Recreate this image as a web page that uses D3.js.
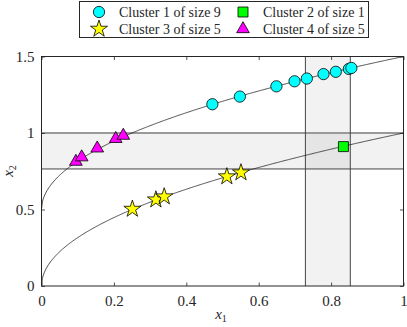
<!DOCTYPE html>
<html>
<head>
<meta charset="utf-8">
<script src="https://cdn.jsdelivr.net/npm/d3@7"></script>
<style>
  body { margin: 0; background: #fff; }
</style>
</head>
<body>
<div id="chart"></div>
<script>
  // cluster points
  const cluster1X = [0.472, 0.548, 0.649, 0.699, 0.733, 0.779, 0.813, 0.849, 0.856];
  const cluster1Y = [1.188, 1.238, 1.305, 1.338, 1.356, 1.385, 1.40, 1.419, 1.425];
  const cluster2X = [0.834];
  const cluster2Y = [0.911];
  const cluster3X = [0.251, 0.316, 0.339, 0.512, 0.551];
  const cluster3Y = [0.503, 0.564, 0.584, 0.715, 0.741];
  const cluster4X = [0.095, 0.111, 0.154, 0.205, 0.226];
  const cluster4Y = [0.813, 0.842, 0.90, 0.962, 0.983];

  const legendNames = ["Cluster 1 of size 9", "Cluster 2 of size 1", "Cluster 3 of size 5", "Cluster 4 of size 5"];
  const xTicks = [0, 0.2, 0.4, 0.6, 0.8, 1];
  const yTicks = [0, 0.5, 1, 1.5];

  // shaded bands
  const bandX = [0.729, 0.853];
  const bandY = [0.765, 1.0];

  const w = 407, h = 327;
  const font = "'Liberation Serif', 'DejaVu Serif', serif";
  const svg = d3.select("#chart").append("svg").attr("width", w).attr("height", h)
    .attr("font-family", font);

  const x = d3.scaleLinear().domain([0, 1]).range([41.5, 403.5]);
  const y = d3.scaleLinear().domain([0, 1.5]).range([286, 56.5]);

  // horizontal band
  svg.append("rect")
    .attr("x", x(0)).attr("y", y(bandY[1]))
    .attr("width", x(1) - x(0)).attr("height", y(bandY[0]) - y(bandY[1]))
    .attr("fill", "#000").attr("fill-opacity", 0.05);
  // vertical band
  svg.append("rect")
    .attr("x", x(bandX[0])).attr("y", y(1.5))
    .attr("width", x(bandX[1]) - x(bandX[0])).attr("height", y(0) - y(1.5))
    .attr("fill", "#000").attr("fill-opacity", 0.05);

  svg.append("line").attr("x1", x(0)).attr("x2", x(1)).attr("y1", y(bandY[1])).attr("y2", y(bandY[1]))
    .attr("stroke", "#999").attr("stroke-width", 2);
  svg.append("line").attr("x1", x(0)).attr("x2", x(1)).attr("y1", y(bandY[0])).attr("y2", y(bandY[0]))
    .attr("stroke", "#444").attr("stroke-width", 1);
  bandX.forEach(function (v) {
    svg.append("line").attr("x1", x(v)).attr("x2", x(v)).attr("y1", y(0)).attr("y2", y(1.5))
      .attr("stroke", "#444").attr("stroke-width", 1);
  });

  // model curves x2 = sqrt(x1) and x2 = 0.5 + sqrt(x1)
  const curveX = d3.range(0, 1.0001, 0.0025);
  const line = d3.line().x(function (d) { return x(d[0]); }).y(function (d) { return y(d[1]); });
  svg.append("path").attr("d", line(curveX.map(function (v) { return [v, Math.sqrt(v)]; })))
    .attr("fill", "none").attr("stroke", "#222").attr("stroke-width", 0.8);
  svg.append("path").attr("d", line(curveX.map(function (v) { return [v, 0.5 + Math.sqrt(v)]; })))
    .attr("fill", "none").attr("stroke", "#222").attr("stroke-width", 0.8);

  // axes box
  const axisColor = "#262626";
  svg.append("rect").attr("x", x(0)).attr("y", y(1.5))
    .attr("width", x(1) - x(0)).attr("height", y(0) - y(1.5))
    .attr("fill", "none").attr("stroke", axisColor).attr("stroke-width", 1);

  const gx = svg.append("g").attr("transform", "translate(0," + y(0) + ")")
    .call(d3.axisBottom(x).tickValues(xTicks).tickSizeInner(-3.5).tickSizeOuter(0).tickPadding(9)
      .tickFormat(function (d) { return d3.format("")(d); }));
  const gxTop = svg.append("g").attr("transform", "translate(0," + y(1.5) + ")")
    .call(d3.axisTop(x).tickValues(xTicks).tickSizeInner(-3.5).tickSizeOuter(0).tickFormat(""));
  const gy = svg.append("g").attr("transform", "translate(" + x(0) + ",0)")
    .call(d3.axisLeft(y).tickValues(yTicks).tickSizeInner(-3.5).tickSizeOuter(0).tickPadding(7)
      .tickFormat(function (d) { return d3.format("")(d); }));
  const gyRight = svg.append("g").attr("transform", "translate(" + x(1) + ",0)")
    .call(d3.axisRight(y).tickValues(yTicks).tickSizeInner(-3.5).tickSizeOuter(0).tickFormat(""));

  [gx, gxTop, gy, gyRight].forEach(function (g) {
    g.attr("font-family", font);
    g.select(".domain").remove();
    g.selectAll(".tick line").attr("stroke", axisColor).attr("stroke-width", 0.8);
    g.selectAll(".tick text").attr("font-size", 15).attr("font-family", font).attr("fill", axisColor);
  });

  // axis labels
  svg.append("text").attr("x", 221).attr("y", 319)
    .attr("text-anchor", "middle").attr("font-size", 15).attr("font-style", "italic")
    .attr("font-family", font).attr("fill", axisColor).text("x")
    .append("tspan").attr("font-size", 10).attr("font-style", "normal").attr("dy", 3).text("1");
  svg.append("text").attr("transform", "translate(13,171) rotate(-90)")
    .attr("text-anchor", "middle").attr("font-size", 15).attr("font-style", "italic")
    .attr("font-family", font).attr("fill", axisColor).text("x")
    .append("tspan").attr("font-size", 10).attr("font-style", "normal").attr("dy", 3).text("2");

  // markers
  const clusters = [
    { xs: cluster1X, ys: cluster1Y, sym: d3.symbolCircle, size: 100, color: "#00ffff" },
    { xs: cluster2X, ys: cluster2Y, sym: d3.symbolSquare, size: 100, color: "#00ff00" },
    { xs: cluster3X, ys: cluster3Y, sym: d3.symbolStar, size: 90, color: "#ffff00" },
    { xs: cluster4X, ys: cluster4Y, sym: d3.symbolTriangle, size: 70, color: "#ff00ff" },
  ];

  clusters.forEach(function (c) {
    svg.append("g").selectAll("path")
      .data(c.xs.map(function (v, i) { return [v, c.ys[i]]; }))
      .enter()
      .append("path")
      .attr("d", d3.symbol().type(c.sym).size(c.size))
      .attr("transform", function (d) { return "translate(" + x(d[0]) + "," + y(d[1]) + ")"; })
      .attr("fill", c.color).attr("stroke", "#000").attr("stroke-width", 0.8);
  });

  // legend
  const legend = svg.append("g");
  legend.append("rect").attr("x", 79.5).attr("y", 1.5).attr("width", 289).attr("height", 36)
    .attr("fill", "#fff").attr("stroke", axisColor).attr("stroke-width", 1);
  const legPos = [[99, 12], [243, 12], [99, 29], [243, 29]];
  clusters.forEach(function (c, i) {
    legend.append("path")
      .attr("d", d3.symbol().type(c.sym).size(c.size))
      .attr("transform", "translate(" + legPos[i][0] + "," + legPos[i][1] + ")")
      .attr("fill", c.color).attr("stroke", "#000").attr("stroke-width", 0.8);
    legend.append("text").attr("x", legPos[i][0] + 20).attr("y", legPos[i][1] + 4.5)
      .attr("font-size", 14).attr("font-family", font).attr("fill", axisColor).text(legendNames[i]);
  });
</script>
</body>
</html>
